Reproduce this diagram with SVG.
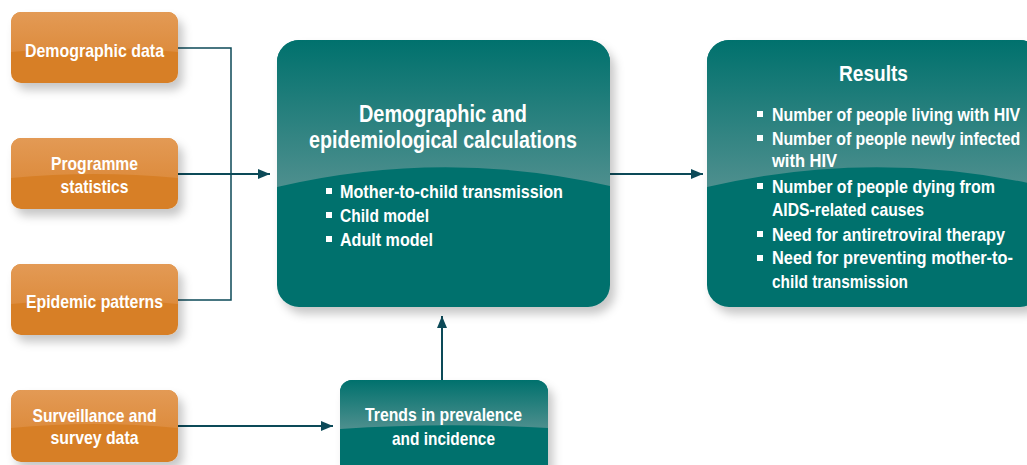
<svg xmlns="http://www.w3.org/2000/svg" width="1027" height="465" viewBox="0 0 1027 465">
<defs>
<style>
text{font-family:"Liberation Sans Narrow","Liberation Sans",Arial,sans-serif;font-weight:bold;fill:#fff;}
.o{font-size:19px;text-anchor:middle;}
.t{font-size:23px;text-anchor:middle;}
.b{font-size:18px;}
.conn{fill:none;stroke:#0c4a58;}
</style>
<linearGradient id="og" x1="0" y1="0" x2="0" y2="1">
<stop offset="0" stop-color="#e39a55"/>
<stop offset="1" stop-color="#dd8c3e"/>
</linearGradient>
<linearGradient id="tg" x1="0" y1="0" x2="0" y2="1">
<stop offset="0" stop-color="#00716d"/>
<stop offset="1" stop-color="#4e8f8e"/>
</linearGradient>
<filter id="sh" x="-20%" y="-20%" width="150%" height="150%">
<feDropShadow dx="5" dy="7" stdDeviation="5" flood-color="#000" flood-opacity="0.22"/>
</filter>
<marker id="ah" viewBox="0 0 12 10" refX="12" refY="5" markerWidth="12" markerHeight="10" markerUnits="userSpaceOnUse" orient="auto">
<path d="M0,0 L12,5 L0,10 Z" fill="#0c4a58"/>
</marker>
</defs>
<rect width="1027" height="465" fill="#fff"/>

<g id="connectors">
<polyline class="conn" stroke-width="1.5" points="178,48 231,48 231,300 178,300"/>
<line class="conn" stroke-width="2" x1="178" y1="174" x2="270" y2="174" marker-end="url(#ah)"/>
<line class="conn" stroke-width="2" x1="610" y1="174" x2="703" y2="174" marker-end="url(#ah)"/>
<line class="conn" stroke-width="2" x1="442" y1="380" x2="442" y2="316" marker-end="url(#ah)"/>
<line class="conn" stroke-width="2" x1="178" y1="426" x2="333" y2="426" marker-end="url(#ah)"/>
</g>

<g id="demographic-data">
<rect x="11" y="12" width="167" height="71" rx="10" fill="#d77f27" filter="url(#sh)"/>
<path d="M11,22 a10,10 0 0 1 10,-10 H168 a10,10 0 0 1 10,10 V52 Q94.5,44 11,52 Z" fill="url(#og)"/>
<text class="o" x="94.5" y="57" textLength="139" lengthAdjust="spacingAndGlyphs">Demographic data</text>
</g>

<g id="programme-statistics">
<rect x="11" y="138" width="167" height="71" rx="10" fill="#d77f27" filter="url(#sh)"/>
<path d="M11,148 a10,10 0 0 1 10,-10 H168 a10,10 0 0 1 10,10 V178 Q94.5,170 11,178 Z" fill="url(#og)"/>
<text class="o" x="94.5" y="170" textLength="87" lengthAdjust="spacingAndGlyphs">Programme</text>
<text class="o" x="94.5" y="193" textLength="68" lengthAdjust="spacingAndGlyphs">statistics</text>
</g>

<g id="epidemic-patterns">
<rect x="11" y="264" width="167" height="71" rx="10" fill="#d77f27" filter="url(#sh)"/>
<path d="M11,274 a10,10 0 0 1 10,-10 H168 a10,10 0 0 1 10,10 V304 Q94.5,296 11,304 Z" fill="url(#og)"/>
<text class="o" x="94.5" y="308" textLength="137" lengthAdjust="spacingAndGlyphs">Epidemic patterns</text>
</g>

<g id="surveillance">
<rect x="11" y="390" width="167" height="72" rx="10" fill="#d77f27" filter="url(#sh)"/>
<path d="M11,400 a10,10 0 0 1 10,-10 H168 a10,10 0 0 1 10,10 V428 Q94.5,420 11,428 Z" fill="url(#og)"/>
<text class="o" x="94.5" y="422" textLength="124" lengthAdjust="spacingAndGlyphs">Surveillance and</text>
<text class="o" x="94.5" y="444" textLength="88" lengthAdjust="spacingAndGlyphs">survey data</text>
</g>

<g id="calculations">
<rect x="277" y="40" width="333" height="267" rx="22" fill="#00716d" filter="url(#sh)"/>
<path d="M277,62 a22,22 0 0 1 22,-22 H588 a22,22 0 0 1 22,22 V186 Q443.5,148 277,187 Z" fill="url(#tg)"/>
<text class="t" x="443" y="122" textLength="168" lengthAdjust="spacingAndGlyphs">Demographic and</text>
<text class="t" x="443" y="148" textLength="268" lengthAdjust="spacingAndGlyphs">epidemiological calculations</text>
<rect x="326" y="188" width="6" height="6" fill="#fff"/>
<rect x="326" y="212" width="6" height="6" fill="#fff"/>
<rect x="326" y="236" width="6" height="6" fill="#fff"/>
<text class="b" x="340" y="198" textLength="223" lengthAdjust="spacingAndGlyphs">Mother-to-child transmission</text>
<text class="b" x="340" y="222" textLength="89" lengthAdjust="spacingAndGlyphs">Child model</text>
<text class="b" x="340" y="246" textLength="93" lengthAdjust="spacingAndGlyphs">Adult model</text>
</g>

<g id="results">
<rect x="707" y="40" width="335" height="267" rx="22" fill="#00716d" filter="url(#sh)"/>
<path d="M707,62 a22,22 0 0 1 22,-22 H1020 a22,22 0 0 1 22,22 V186 Q874.5,148 707,187 Z" fill="url(#tg)"/>
<text x="873.5" y="81" font-size="22" text-anchor="middle" textLength="69" lengthAdjust="spacingAndGlyphs">Results</text>
<rect x="757" y="111" width="6" height="6" fill="#fff"/>
<rect x="757" y="135" width="6" height="6" fill="#fff"/>
<rect x="757" y="183" width="6" height="6" fill="#fff"/>
<rect x="757" y="231" width="6" height="6" fill="#fff"/>
<rect x="757" y="255" width="6" height="6" fill="#fff"/>
<text class="b" transform="translate(772,121) scale(0.85,1)" textLength="292" lengthAdjust="spacingAndGlyphs">Number of people living with HIV</text>
<text class="b" transform="translate(772,145) scale(0.85,1)" textLength="292" lengthAdjust="spacingAndGlyphs">Number of people newly infected</text>
<text class="b" transform="translate(772,167) scale(0.85,1)" textLength="76.5" lengthAdjust="spacingAndGlyphs">with HIV</text>
<text class="b" transform="translate(772,193) scale(0.85,1)" textLength="262.4" lengthAdjust="spacingAndGlyphs">Number of people dying from</text>
<text class="b" transform="translate(772,216) scale(0.85,1)" textLength="178.8" lengthAdjust="spacingAndGlyphs">AIDS-related causes</text>
<text class="b" transform="translate(772,241) scale(0.85,1)" textLength="274.1" lengthAdjust="spacingAndGlyphs">Need for antiretroviral therapy</text>
<text class="b" transform="translate(772,264) scale(0.85,1)" textLength="283.5" lengthAdjust="spacingAndGlyphs">Need for preventing mother-to-</text>
<text class="b" transform="translate(772,288) scale(0.85,1)" textLength="160" lengthAdjust="spacingAndGlyphs">child transmission</text>
</g>

<g id="trends">
<rect x="340" y="380" width="208" height="100" rx="12" fill="#00716d" filter="url(#sh)"/>
<path d="M340,392 a12,12 0 0 1 12,-12 H536 a12,12 0 0 1 12,12 V428 Q444,422 340,429 Z" fill="url(#tg)"/>
<text x="443.5" y="421" font-size="19" text-anchor="middle" textLength="157" lengthAdjust="spacingAndGlyphs">Trends in prevalence</text>
<text x="443.5" y="445" font-size="19" text-anchor="middle" textLength="103" lengthAdjust="spacingAndGlyphs">and incidence</text>
</g>
</svg>
